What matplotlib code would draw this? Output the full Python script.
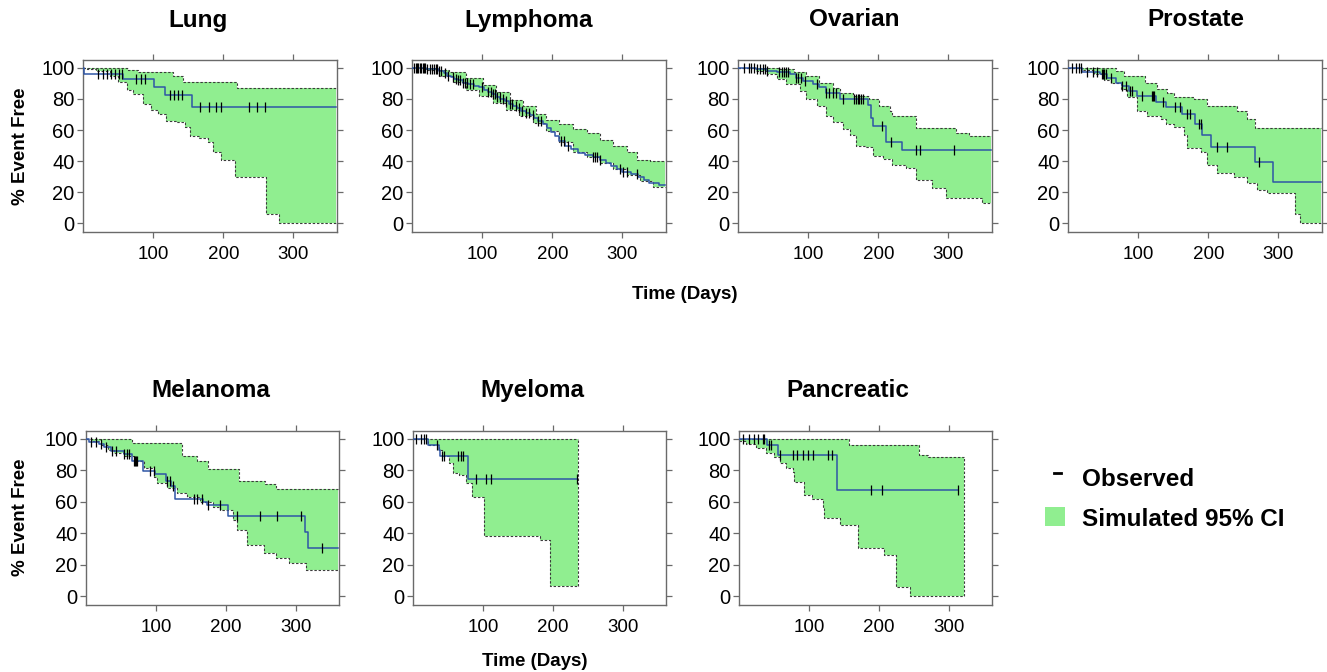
import numpy as np
import matplotlib
matplotlib.use("Agg")
import matplotlib.pyplot as plt
from matplotlib.patches import Rectangle

plt.rcParams['font.family'] = ['Liberation Sans', 'DejaVu Sans']

W, H = 1327, 672

# ---- data (days, % event free) ----
lung_km_t = [0, 2, 57, 101, 117, 156]
lung_km_v = [100, 96, 93, 87.5, 82.5, 75]
lung_cens = [22, 28, 34, 40, 45, 51, 55, 76, 83, 89, 124, 130, 136, 141,
             167, 180, 190, 197, 237, 248, 259]
lung_lo_t = [0, 5, 19, 38, 50, 62, 71, 85, 97, 107, 118, 133, 145, 152, 166,
             178, 185, 197, 216, 261, 280]
lung_lo_v = [100, 99, 98, 95, 91, 86, 83, 77, 73, 70, 66, 65, 62, 56, 55,
             52, 46, 41, 30, 6, 0]
lung_up_t = [0, 64, 78, 128, 143, 220]
lung_up_v = [100, 98.5, 97.5, 95, 91, 87]

lymph_km_t = [0, 20, 30, 38, 45, 50, 55, 60, 66, 72, 80, 88, 95, 102, 108, 114,
              120, 126, 132, 138, 144, 150, 156, 162, 168, 174, 180, 186, 192,
              198, 204, 210, 218, 226, 236, 246, 258, 268, 276, 284, 292, 300,
              312, 322, 330, 338, 352]
lymph_km_v = [100, 99.5, 99, 98, 96.5, 95, 94, 93, 92, 90.5, 89.5, 88.5, 87.5,
              86, 84.5, 83, 81.5, 80, 78.5, 77, 75.5, 74, 72.5, 71, 69.5, 68,
              66, 64, 61, 58.5, 56, 53, 50, 48, 45.5, 44, 42.5, 41, 39, 37, 35,
              33, 31.5, 30, 28, 26, 24.5]
lymph_cens = [3, 5, 7, 9, 11, 13, 15, 17, 19, 22, 25, 28, 31, 34, 36, 38, 41,
              47, 52, 58, 63, 66, 69, 72, 75, 79, 83, 87, 100, 108, 112, 115,
              118, 121, 125, 129, 134, 139, 143, 148, 152, 157, 162, 167, 172,
              180, 184, 212, 216, 222, 258, 261, 264, 268, 296, 301, 306, 320]
lymph_lo_t = [0, 20, 39, 58, 77, 96, 115, 134, 153, 172, 191, 210, 230, 249,
              268, 287, 306, 325, 344]
lymph_lo_v = [100, 98.7, 95, 91, 85.8, 81.6, 77.3, 73, 68.9, 64.6, 59.3, 52.5,
              46, 43, 39, 35, 31.4, 27.5, 23.3]
lymph_up_t = [0, 34, 53, 77, 101, 120, 139, 158, 177, 191, 210, 230, 249, 268,
              287, 306, 320, 339]
lymph_up_v = [100, 98.5, 97, 93.2, 89, 84.7, 79.4, 75.2, 70, 66.7, 63.6, 60.4,
              58, 53.6, 49.6, 46.2, 41, 40]

ovar_km_t = [0, 26, 41, 55, 74, 83, 93, 107, 116, 126, 145, 185, 190, 192, 211, 234]
ovar_km_v = [100, 99, 98, 97, 96, 93.5, 91.5, 89.5, 87.5, 84, 80, 76, 68, 62.5,
             52.5, 47]
ovar_cens = [8, 15, 19, 23, 27, 31, 36, 38, 42, 59, 62, 65, 68, 71, 83, 86, 90,
             96, 112, 126, 130, 135, 140, 149, 166, 168, 171, 173, 175, 178,
             205, 218, 253, 259, 308]
ovar_lo_t = [0, 26, 41, 55, 69, 88, 97, 112, 126, 135, 149, 159, 168, 182, 192,
             206, 220, 239, 253, 277, 296, 348]
ovar_lo_v = [100, 98, 96, 92.6, 89.4, 85, 80, 75.6, 69, 65, 60.8, 56.6, 50, 49,
             43.6, 41.7, 37.5, 35.4, 28, 22.7, 16.5, 13.1]
ovar_up_t = [0, 60, 80, 97, 116, 135, 145, 164, 187, 201, 216, 220, 253, 310, 329]
ovar_up_v = [100, 99, 97, 94.5, 90.5, 87, 84, 82, 80, 75.5, 72.5, 69, 61, 58, 56]

prost_km_t = [0, 20, 46, 56, 68, 77, 87, 99, 125, 139, 163, 181, 191, 204, 267, 292]
prost_km_v = [100, 97.5, 96, 93.7, 90.5, 88.4, 85.2, 82, 77.8, 74.6, 70.4, 64,
              56.7, 49.3, 39.3, 26.6]
prost_cens = [6, 11, 16, 19, 27, 36, 42, 49, 50, 51, 54, 61, 77, 82, 89, 91,
              106, 120, 121, 122, 136, 153, 160, 170, 174, 186, 189, 212, 227, 272]
prost_lo_t = [0, 18, 37, 51, 61, 75, 84, 99, 113, 132, 139, 151, 165, 170, 189,
              198, 212, 236, 255, 269, 283, 323, 331]
prost_lo_v = [100, 98.5, 96.2, 92.4, 90.5, 86.3, 81, 72.5, 69.3, 67.2, 64, 62,
              56.7, 48.2, 46, 37.6, 32.3, 30, 26, 21.8, 19.7, 6, 0]
prost_up_t = [0, 68, 80, 110, 127, 141, 151, 179, 198, 241, 255, 267]
prost_up_v = [100, 98, 95, 90.5, 86.5, 84, 81, 80, 75.5, 72.5, 67, 61.5]

mela_km_t = [0, 5, 19, 26, 36, 54, 66, 82, 99, 114, 122, 127, 168, 173, 203, 314, 318]
mela_km_v = [100, 98, 96.8, 94.7, 92.5, 90.4, 86, 79.8, 77.7, 73, 70, 62, 60,
             57.9, 51.3, 41, 31]
mela_cens = [7, 14, 21, 28, 37, 43, 54, 58, 62, 68, 70, 71, 73, 92, 97, 116,
             120, 124, 154, 159, 166, 175, 192, 216, 249, 273, 307, 338]
mela_lo_t = [0, 9, 21, 31, 40, 54, 69, 83, 97, 102, 116, 130, 145, 163, 182,
             192, 211, 216, 230, 254, 272, 291, 315]
mela_lo_v = [100, 98.5, 96.4, 93.2, 91, 89, 85.7, 81.5, 76, 71.9, 68.7, 65.5,
             63.4, 60, 57, 54.9, 48.5, 42, 32.5, 27.7, 24.5, 20.9, 16.6]
mela_up_t = [0, 66, 137, 159, 175, 219, 256, 272]
mela_up_v = [100, 97.4, 89, 86, 80.6, 73.4, 71.3, 68]

myel_km_t = [0, 21, 37, 39, 78]
myel_km_v = [100, 96, 93, 89, 74.5]
myel_cens = [5, 11, 16, 19, 34, 42, 45, 64, 68, 71, 90, 104, 111, 234]
myel_lo_t = [0, 21, 37, 42, 52, 57, 66, 76, 85, 101, 181, 196]
myel_lo_v = [100, 96, 93, 89, 84.6, 78.3, 77.2, 71.9, 63.3, 38.2, 35.6, 6.8]
myel_up_t = [0]
myel_up_v = [100]

panc_km_t = [0, 40, 56, 140]
panc_km_v = [100, 96, 90, 67.5]
panc_cens = [6, 14, 22, 27, 34, 36, 43, 46, 59, 77, 83, 91, 99, 106, 127, 133,
             189, 204, 313]
panc_lo_t = [0, 10, 25, 39, 50, 58, 67, 77, 79, 93, 105, 120, 122, 144, 170,
             208, 225, 244]
panc_lo_v = [98.5, 97, 94.5, 91, 88.7, 84.5, 81.3, 79.2, 72.8, 64.3, 62, 55.8,
             49.5, 45.2, 30.4, 26, 6, 0]
panc_up_t = [0, 158, 258, 270]
panc_up_v = [100, 96, 89.8, 88.7]

names = ['Lung', 'Lymphoma', 'Ovarian', 'Prostate', 'Melanoma', 'Myeloma', 'Pancreatic']
km_end = [360, 360, 360, 360, 360, 235, 314]
ci_end = [360, 360, 360, 360, 360, 236, 322]

panels = [
    (lung_km_t, lung_km_v, lung_cens, lung_lo_t, lung_lo_v, lung_up_t, lung_up_v),
    (lymph_km_t, lymph_km_v, lymph_cens, lymph_lo_t, lymph_lo_v, lymph_up_t, lymph_up_v),
    (ovar_km_t, ovar_km_v, ovar_cens, ovar_lo_t, ovar_lo_v, ovar_up_t, ovar_up_v),
    (prost_km_t, prost_km_v, prost_cens, prost_lo_t, prost_lo_v, prost_up_t, prost_up_v),
    (mela_km_t, mela_km_v, mela_cens, mela_lo_t, mela_lo_v, mela_up_t, mela_up_v),
    (myel_km_t, myel_km_v, myel_cens, myel_lo_t, myel_lo_v, myel_up_t, myel_up_v),
    (panc_km_t, panc_km_v, panc_cens, panc_lo_t, panc_lo_v, panc_up_t, panc_up_v),
]

# layout in pixels: (left, top, width, height), title centre x
boxes = [(83, 60, 254, 172), (412, 60, 254, 172), (738, 60, 254, 172), (1068, 60, 254, 172),
         (86, 431, 253, 174), (413, 431, 253, 174), (739, 431, 253, 174)]
title_x = [198, 529, 854, 1196, 211, 532, 848]

GREEN = '#90EE90'
BLUE = '#2F56A6'
EDGE = '#6a6a6a'


def step_at(t, v, x):
    idx = np.searchsorted(np.asarray(t), np.asarray(x), side='right') - 1
    return np.asarray(v, dtype=float)[idx]


fig = plt.figure(figsize=(W / 100, H / 100), dpi=100)

for i, (km_t, km_v, cens, lo_t, lo_v, up_t, up_v) in enumerate(panels):
    l, t, w, h = boxes[i]
    ax = fig.add_axes([l / W, 1 - (t + h) / H, w / W, h / H])

    end = ci_end[i]
    grid = np.union1d(lo_t, up_t)
    grid = np.append(grid[grid < end], end)
    lo = step_at(lo_t, lo_v, grid)
    up = step_at(up_t, up_v, grid)
    ax.fill_between(grid, lo, up, step='post', color=GREEN, lw=0, zorder=1)
    dash = dict(color='#3c3c3c', lw=0.8, ls=(0, (2.2, 1.6)), zorder=2)
    ax.step(grid, lo, where='post', **dash)
    ax.step(grid, up, where='post', **dash)
    if end < 355:
        ax.vlines(end, lo[-1], up[-1], **dash)

    kt = np.append(km_t, km_end[i])
    kv = np.append(km_v, km_v[-1])
    ax.step(kt, kv, where='post', color=BLUE, lw=1.1, zorder=3)
    ax.plot(cens, step_at(km_t, km_v, cens), ls='', marker='|', ms=7, mew=0.9,
            color='black', zorder=4)

    ax.set_xlim(0, 362)
    ax.set_ylim(-5.5, 105)
    ax.set_xticks([100, 200, 300])
    ax.set_yticks(range(0, 101, 20))
    ax.tick_params(direction='out', top=True, right=True, labeltop=False,
                   labelright=False, length=4, width=0.9, color=EDGE)
    ax.tick_params(axis='x', labelsize=13.5, pad=6)
    ax.tick_params(axis='y', labelsize=14.5, pad=2)
    for s in ax.spines.values():
        s.set_color(EDGE)
        s.set_linewidth(1.0)

    fig.text(title_x[i] / W, 1 - (t - 33.5) / H, names[i], ha='center',
             va='baseline', fontsize=17.5, fontweight='bold')

# axis labels
for yc in (146, 517):
    fig.text(21 / W, 1 - yc / H, '% Event Free', rotation=90, ha='center',
             va='center', fontsize=13.5, fontweight='bold')
fig.text(685 / W, 1 - 299 / H, 'Time (Days)', ha='center', va='baseline',
         fontsize=13.5, fontweight='bold')
fig.text(535 / W, 1 - 666 / H, 'Time (Days)', ha='center', va='baseline',
         fontsize=13.5, fontweight='bold')

# legend
fig.lines.append(plt.Line2D([1054 / W, 1061 / W], [1 - 473 / H, 1 - 473 / H],
                            transform=fig.transFigure, color='black', lw=2))
fig.patches.append(Rectangle((1045 / W, 1 - 526 / H), 20 / W, 19 / H,
                             transform=fig.transFigure, color=GREEN, lw=0))
fig.text(1082 / W, 1 - 485.5 / H, 'Observed', va='baseline', fontsize=17.5,
         fontweight='bold')
fig.text(1082 / W, 1 - 525.5 / H, 'Simulated 95% CI', va='baseline',
         fontsize=17.5, fontweight='bold')

fig.savefig('out.png', dpi=100)
